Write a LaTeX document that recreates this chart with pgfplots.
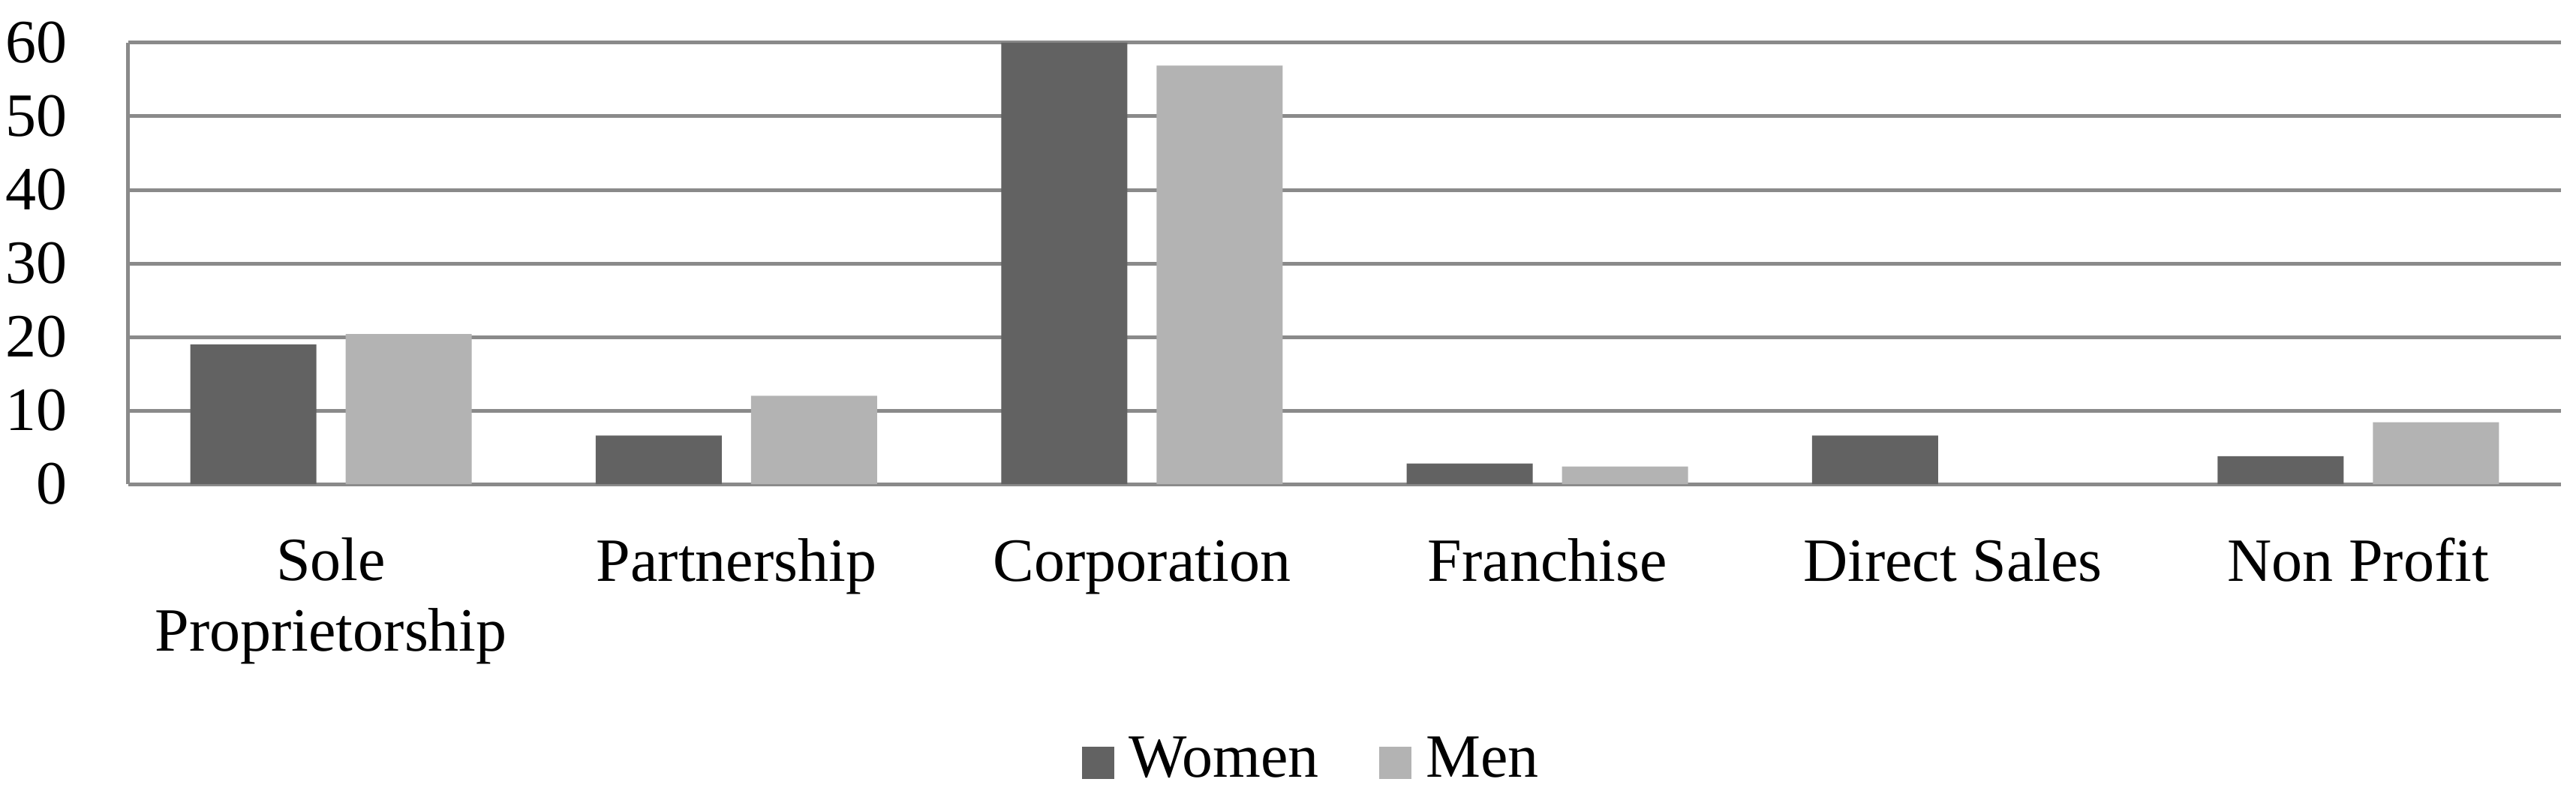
\documentclass[border=0pt]{standalone}
\usepackage{fontspec}
\setmainfont{Liberation Serif}
\usepackage{pgfplots}
\pgfplotsset{compat=1.18}
\definecolor{women}{HTML}{626262}
\definecolor{men}{HTML}{B3B3B3}
\definecolor{gridgray}{HTML}{8A8A8A}

\begin{document}
\begin{tikzpicture}
\begin{axis}[
    scale only axis,
    width=324.2pt, height=58.8pt,
    xmin=-0.5, xmax=5.5,
    ymin=0, ymax=60,
    ytick={0,10,...,60},
    xtick={0,...,5},
    xticklabels={{Sole\\Proprietorship},Partnership,Corporation,Franchise,Direct Sales,Non Profit},
    major tick length=0pt,
    axis x line*=bottom, axis y line*=left,
    axis line style={draw=gridgray, line width=0.5pt, -},
    ymajorgrids, grid style={draw=gridgray, line width=0.5pt},
    /pgf/number format/assume math mode=true,
    tick label style={font=\fontsize{8.2}{9.4}\selectfont},
    yticklabel style={xshift=-4.6pt},
    xticklabel style={align=center, anchor=north, yshift=-3.6pt,
        font=\fontsize{8.2}{9.4}\selectfont\vphantom{lfP}},
    legend style={at={(0.489,-0.631)}, anchor=center, draw=none,
        font=\fontsize{8.2}{9.4}\selectfont,
        /tikz/every even column/.append style={column sep=6pt}},
    legend columns=2,
    legend image code/.code={\fill[#1] (0pt,-2.15pt) rectangle (4.3pt,2.15pt);},
]
\addplot[ybar, bar width=16.8pt, bar shift=-10.35pt, fill=women, draw=none]
    coordinates {(0,19.0) (1,6.6) (2,60.0) (3,2.8) (4,6.6) (5,3.8)};
\addplot[ybar, bar width=16.8pt, bar shift=10.35pt, fill=men, draw=none]
    coordinates {(0,20.4) (1,12.0) (2,56.9) (3,2.4) (5,8.4)};
\legend{Women, Men}
\end{axis}
\pgfresetboundingbox
\useasboundingbox (-17.1pt,-40.8pt) rectangle (326.2pt,64.5pt);
\end{tikzpicture}
\end{document}
